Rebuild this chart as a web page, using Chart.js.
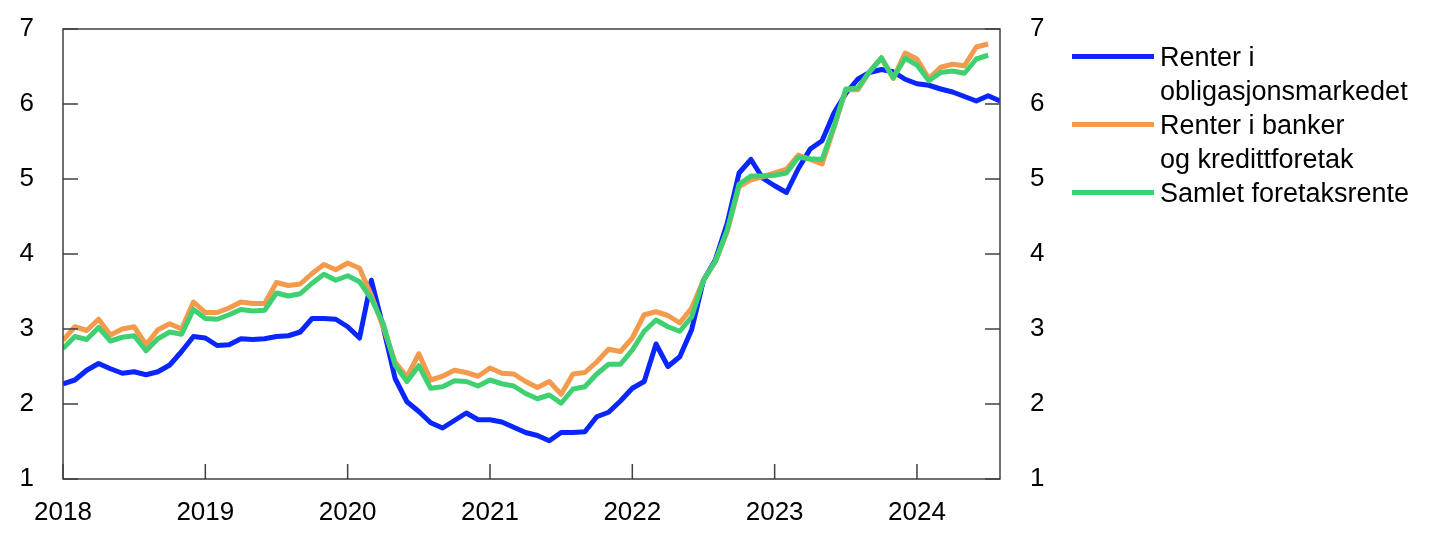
<!DOCTYPE html>
<html>
<head>
<meta charset="utf-8">
<script src="https://cdn.jsdelivr.net/npm/chart.js@4.4.1/dist/chart.umd.min.js"></script>
<style>
  html, body { margin: 0; padding: 0; background: #fff; }
  #wrap { position: relative; width: 1445px; height: 543px; }
  #legend { position: absolute; left: 1072px; top: 40px; font-family: "Liberation Sans", Arial, sans-serif; font-size: 27px; line-height: 34px; color: #000; }
  .item { position: relative; padding-left: 88px; white-space: nowrap; }
  .item i { position: absolute; left: 0; top: 14px; width: 82px; height: 5px; }
</style>
</head>
<body>
<div id="wrap">
  <canvas id="chart" width="1445" height="543"></canvas>
  <div id="legend"></div>
</div>
<script>
// monthly, Jan 2018 - Aug 2024
const startYear = 2018
const yearLabels = ["2018", "2019", "2020", "2021", "2022", "2023", "2024"]

const obligasjon = [
    2.27, 2.32, 2.45, 2.54, 2.47, 2.41, 2.43, 2.39, 2.43, 2.52, 2.70, 2.90,
    2.88, 2.78, 2.79, 2.87, 2.86, 2.87, 2.90, 2.91, 2.96, 3.14, 3.14, 3.13,
    3.03, 2.88, 3.65, 3.02, 2.34, 2.03, 1.90, 1.75, 1.68, 1.78, 1.88, 1.79,
    1.79, 1.76, 1.69, 1.62, 1.58, 1.51, 1.62, 1.62, 1.63, 1.83, 1.89, 2.04,
    2.21, 2.30, 2.80, 2.50, 2.63, 2.99, 3.65, 3.92, 4.41, 5.08, 5.26, 5.01,
    4.91, 4.82, 5.14, 5.40, 5.51, 5.88, 6.14, 6.33, 6.42, 6.46, 6.43, 6.33,
    6.27, 6.25, 6.20, 6.16, 6.10, 6.04, 6.11, 6.04
]
const banker = [
    2.85, 3.03, 2.98, 3.13, 2.92, 3.00, 3.03, 2.79, 2.99, 3.07, 3.00, 3.36,
    3.22, 3.22, 3.28, 3.36, 3.34, 3.34, 3.62, 3.58, 3.60, 3.74, 3.86, 3.79,
    3.88, 3.81, 3.45, 3.02, 2.56, 2.36, 2.67, 2.32, 2.37, 2.45, 2.42, 2.37,
    2.48, 2.41, 2.40, 2.30, 2.22, 2.30, 2.13, 2.40, 2.42, 2.56, 2.73, 2.70,
    2.88, 3.19, 3.23, 3.18, 3.08, 3.28, 3.65, 3.90, 4.30, 4.90, 4.99, 5.03,
    5.08, 5.13, 5.32, 5.26, 5.20, 5.68, 6.19, 6.19, 6.43, 6.62, 6.34, 6.68,
    6.60, 6.34, 6.49, 6.53, 6.51, 6.76, 6.80
]
const samlet = [
    2.74, 2.90, 2.86, 3.02, 2.84, 2.89, 2.91, 2.71, 2.87, 2.96, 2.93, 3.26,
    3.14, 3.13, 3.19, 3.26, 3.24, 3.25, 3.48, 3.44, 3.47, 3.61, 3.73, 3.65,
    3.71, 3.63, 3.40, 3.07, 2.52, 2.30, 2.51, 2.21, 2.23, 2.31, 2.30, 2.24,
    2.32, 2.27, 2.24, 2.14, 2.07, 2.12, 2.01, 2.20, 2.23, 2.40, 2.53, 2.53,
    2.72, 2.97, 3.12, 3.03, 2.97, 3.16, 3.65, 3.90, 4.32, 4.93, 5.04, 5.04,
    5.05, 5.08, 5.29, 5.27, 5.26, 5.70, 6.20, 6.21, 6.43, 6.61, 6.35, 6.61,
    6.52, 6.31, 6.42, 6.44, 6.41, 6.60, 6.65
]

const seriesNames = [["Renter i", "obligasjonsmarkedet"], ["Renter i banker", "og kredittforetak"], ["Samlet foretaksrente"]]
const seriesColors = ["#0a26ff", "#f39a4c", "#3fd071"]

const monthIndex = obligasjon.map((_, i) => i)
const yearTicks = yearLabels.map((_, i) => i * 12)

const FONT = { family: "'Liberation Sans', Arial, sans-serif", size: 26 }

// frame round the plot and short ticks pointing inward
const frameTicks = {
    id: "frameTicks",
    afterDatasetsDraw(chart) {
        const { ctx, chartArea: a, scales } = chart
        ctx.save()
        ctx.strokeStyle = "#404040"
        ctx.lineWidth = 1.5
        ctx.strokeRect(a.left, a.top, a.right - a.left, a.bottom - a.top)
        ctx.beginPath()
        scales.y.ticks.forEach(t => {
            const py = scales.y.getPixelForValue(t.value)
            ctx.moveTo(a.left, py); ctx.lineTo(a.left + 15, py)
            ctx.moveTo(a.right, py); ctx.lineTo(a.right - 15, py)
        })
        scales.x.ticks.forEach(t => {
            const px = scales.x.getPixelForValue(t.value)
            ctx.moveTo(px, a.bottom); ctx.lineTo(px, a.bottom - 15)
        })
        ctx.stroke()
        ctx.restore()
    }
}

const yAxis = (position, padding, width) => ({
    position: position,
    min: 1,
    max: 7,
    ticks: { stepSize: 1, padding: padding, font: FONT, color: "#000" },
    grid: { display: false, drawTicks: false },
    border: { display: false },
    afterFit: s => {
        s.width = width
        // tick padding would otherwise push the plot top down
        s.paddingTop = 0
        s.paddingBottom = 0
    }
})

new Chart(document.getElementById("chart"), {
    type: "line",
    data: {
        labels: monthIndex,
        datasets: [obligasjon, banker, samlet].map((d, i) => ({
            label: seriesNames[i].join(" "),
            data: d,
            borderColor: seriesColors[i],
            backgroundColor: seriesColors[i],
            borderWidth: 5,
            pointRadius: 0,
            tension: 0,
            borderJoinStyle: "round",
            order: 2 - i,
            yAxisID: "y"
        }))
    },
    options: {
        responsive: false,
        animation: false,
        devicePixelRatio: 1,
        layout: { padding: { top: 29, left: 0, right: 0, bottom: 0 } },
        plugins: { legend: { display: false }, tooltip: { enabled: false } },
        scales: {
            x: {
                type: "linear",
                min: 0,
                max: 79,
                afterBuildTicks: s => { s.ticks = yearTicks.map(v => ({ value: v })) },
                ticks: { callback: v => String(startYear + v / 12), padding: 18, font: FONT, color: "#000", maxRotation: 0, autoSkip: false },
                grid: { display: false, drawTicks: false },
                border: { display: false },
                afterFit: s => { s.height = 64 }
            },
            y: yAxis("left", 29, 63),
            y2: yAxis("right", 30, 445)
        }
    },
    plugins: [frameTicks]
})

// legend as text next to the plot
document.getElementById("legend").innerHTML = seriesNames.map((lines, i) =>
    '<div class="item"><i style="background:' + seriesColors[i] + '"></i>' + lines.join("<br>") + "</div>"
).join("")
</script>
</body>
</html>
